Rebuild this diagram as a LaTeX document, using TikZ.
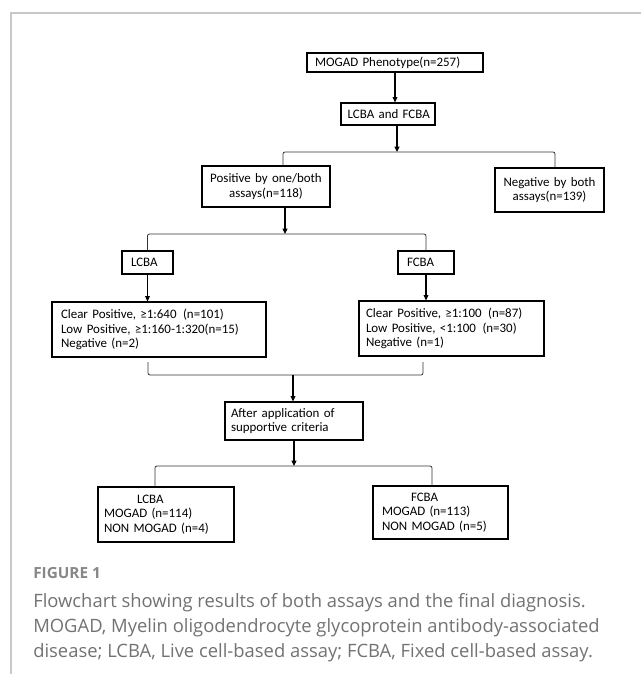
\documentclass[tikz,border=0pt]{standalone}
\usepackage{fontspec}
\newfontfamily\carlito{Carlito}
\newfontfamily\capfont{Open Sans}
\usetikzlibrary{arrows.meta}
\definecolor{framegray}{HTML}{C8C8C8}
\definecolor{capgray}{HTML}{727272}

\begin{document}
\begin{tikzpicture}[x=0.75pt,y=-0.75pt,
    box/.style={draw,line width=0.9pt,inner ysep=0pt,align=left,
      font=\carlito\fontsize{9.7}{11}\selectfont},
    arr/.style={line width=0.8pt,-{Triangle[length=4pt,width=3.6pt]}},
    brk/.style={line width=0.6pt,draw=black!80,rounded corners=1.5pt},
    captext/.style={anchor=base west,inner sep=0pt,text=capgray,
      font=\capfont\fontsize{13.8}{18.75}\selectfont}]
   %\draw[help lines] (0,0) grid (641,674);
    \useasboundingbox (0,0) rectangle (641,674);
    \draw[framegray,line width=0.8pt] (641,13) -- (11,13) -- (11,674);
    % boxes
    \node[box,text width=124pt,inner xsep=4pt,minimum height=14.25pt] (pheno) at (395,62.5) {\hspace*{2pt}MOGAD Phenotype(n=257)};
    \node[box,text width=64.5pt,inner xsep=3pt,minimum height=16.5pt] (both) at (388,114) {\hspace*{2pt}LCBA and FCBA};
    \node[box,text width=88pt,inner xsep=4pt,minimum height=30.75pt,align=center] (pos) at (266,186.5) {Positive by one/both\\assays(n=118)};
    \node[box,text width=73.75pt,inner xsep=4pt,minimum height=33pt,align=center] (neg) at (549.5,190) {Negative by both\\assays(n=139)};
    \node[box,text width=30.25pt,inner xsep=4pt,minimum height=17.25pt] (lcba) at (147.5,262.5) {\hspace*{2.75pt}LCBA};
    \node[box,text width=34pt,inner xsep=4pt,minimum height=17.25pt] (fcba) at (426,262.5) {\hspace*{2.75pt}FCBA};
    \node[box,text width=150.5pt,inner xsep=5pt,minimum height=41.25pt] (resl) at (159,329.5) {\hspace*{1.75pt}Clear Positive, ≥1:640 \,(n=101)\\\hspace*{1.75pt}Low Positive, ≥1:160-1:320(n=15)\\\hspace*{1.75pt}Negative (n=2)};
    \node[box,text width=130.75pt,inner xsep=4pt,minimum height=41.25pt] (resr) at (451.5,328.5) {\hspace*{1.25pt}Clear Positive, ≥1:100 \,(n=87)\\\hspace*{1.25pt}Low Positive, <1:100 \,(n=30)\\\hspace*{1.25pt}Negative (n=1)};
    \node[box,text width=95.5pt,inner xsep=4pt,minimum height=28.5pt] (after) at (294,421) {\hspace*{0.5pt}After application of\\\hspace*{0.5pt}supportive criteria};
    \node[box,text width=94pt,inner xsep=4pt,minimum height=41.25pt] (finl) at (166,514.5) {\hspace*{25.25pt}LCBA\\\hspace*{0.5pt}MOGAD (n=114)\\\hspace*{0.5pt}NON MOGAD (n=4)};
    \node[box,text width=93.25pt,inner xsep=4pt,minimum height=39.75pt] (finr) at (440.5,512.5) {\hspace*{24.5pt}FCBA\\\hspace*{2.75pt}MOGAD (n=113)\\\hspace*{2.75pt}NON MOGAD (n=5)};
    % joints
    \coordinate (j1) at (397,152);
    \coordinate (j1l) at (283,152);
    \coordinate (j1r) at (555,152);
    \coordinate (j2) at (285,234);
    \coordinate (j3l) at (148,362);
    \coordinate (j3) at (293,375);
    \coordinate (j3r) at (423,362);
    \coordinate (j4) at (294,466);
    \coordinate (j4l) at (155,466);
    \coordinate (j4r) at (432,466);
    % connectors
    \draw[arr] (pheno.south) -- (pheno.south |- both.north);
    \draw[arr] (both.south -| j1) -- (j1);
    \draw[brk] (pos.north -| j1l) -- (j1l) -- (j1r) -- (neg.north -| j1r);
    \draw[arr] (pos.south -| j2) -- (j2);
    \draw[brk] (lcba.north) |- (j2) -| (fcba.north);
    \draw[arr] (lcba.south) -- (lcba.south |- resl.north);
    \draw[arr] (fcba.south) -- (fcba.south |- resr.north);
    \draw[brk] (j3l) |- (j3) -| (j3r);
    \draw[arr] (j3) -- (j3 |- after.north);
    \draw[arr] (after.south) -- (j4);
    \draw[brk] (finl.north -| j4l) |- (j4) -| (finr.north -| j4r);
    % caption
    \node[captext,font=\capfont\bfseries\fontsize{11.5}{13}\selectfont,text=capgray!85] (fig) at (33,578) {FIGURE 1};
    \node[captext] (cap1) at (33,607) {Flowchart showing results of both assays and the final diagnosis.};
    \node[captext] (cap2) at (33,632) {MOGAD, Myelin oligodendrocyte glycoprotein antibody-associated};
    \node[captext] (cap3) at (33,657) {disease; LCBA, Live cell-based assay; FCBA, Fixed cell-based assay.};
\end{tikzpicture}
\end{document}
